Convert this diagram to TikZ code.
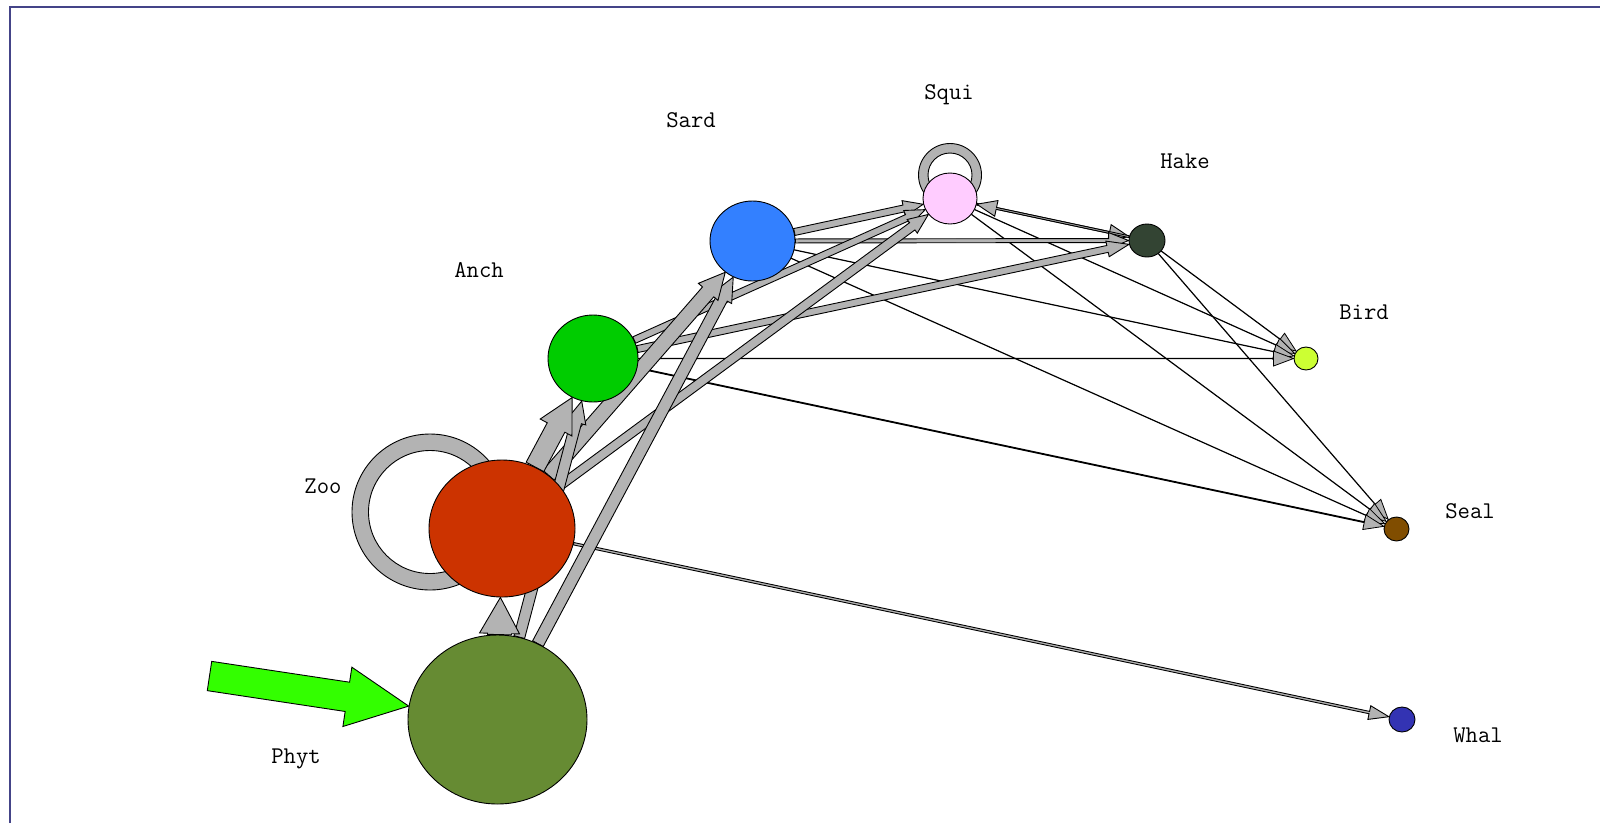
\documentclass[tikz,border=0pt]{standalone}
\usetikzlibrary{calc,shapes.geometric}
\pgfdeclarelayer{background}
\pgfsetlayers{background,main}
\definecolor{phytc}{RGB}{102,139,51}
\definecolor{zooc}{RGB}{204,51,0}
\definecolor{anchc}{RGB}{0,204,0}
\definecolor{sardc}{RGB}{51,128,255}
\definecolor{squic}{RGB}{255,204,255}
\definecolor{hakec}{RGB}{51,68,51}
\definecolor{birdc}{RGB}{204,255,51}
\definecolor{sealc}{RGB}{128,77,0}
\definecolor{whalc}{RGB}{51,51,179}
\definecolor{flowgray}{RGB}{179,179,179}
\definecolor{ingreen}{RGB}{51,255,0}
\definecolor{framec}{RGB}{68,68,136}
\tikzset{
  species/.style={ellipse, draw=black, line width=0.9pt, inner sep=0pt},
  lbl/.style={font=\ttfamily\fontsize{24}{28}\selectfont, anchor=base, inner sep=0pt},
  flowfill/.style={fill=flowgray, draw=black, line width=0.9pt},
  thinflow/.style={fill=flowgray, draw=black, line width=0.8pt},
  inflow/.style={fill=ingreen, draw=black, line width=0.9pt},
  ringstyle/.style={fill=flowgray, draw=black, line width=0.9pt, even odd rule},
  framestyle/.style={draw=framec, line width=2pt}
}
% #1 style, #2 from, #3 to, #4 shaft half width, #5 head half width, #6 head length
\newcommand{\flow}[6][flowfill]{%
  \path (#2) -- coordinate[pos=0] (fs) coordinate[pos=1] (ft) (#3);
  \coordinate (fh) at ($(ft)!#6pt!(fs)$);
  \filldraw[#1] ($(fs)!#4pt!90:(ft)$) -- ($(fh)!#4pt!90:(ft)$) -- ($(fh)!#5pt!90:(ft)$) -- (ft)
    -- ($(fh)!#5pt!-90:(ft)$) -- ($(fh)!#4pt!-90:(ft)$) -- ($(fs)!#4pt!-90:(ft)$) -- cycle;
}
\begin{document}
\begin{tikzpicture}[x=1pt,y=-1pt]
\useasboundingbox (0,0) rectangle (1600,823);
\draw[framestyle] (10,823) -- (10,7) -- (1600,7);

% species nodes
\node[species, fill=phytc, minimum width=179pt, minimum height=169pt] (phyt) at (497.5,719.5) {};
\node[species, fill=zooc, minimum width=146pt, minimum height=137pt] (zoo) at (502,528.5) {};
\node[species, fill=anchc, minimum width=90pt, minimum height=87pt] (anch) at (593,358.5) {};
\node[species, fill=sardc, minimum width=85pt, minimum height=80pt] (sard) at (752.5,241) {};
\node[species, fill=squic, minimum width=54pt, minimum height=51pt] (squi) at (950,198.5) {};
\node[species, fill=hakec, minimum width=36pt, minimum height=33pt] (hake) at (1147,240.5) {};
\node[species, fill=birdc, minimum width=24pt, minimum height=23pt] (bird) at (1306,358.5) {};
\node[species, fill=sealc, minimum width=25pt, minimum height=24pt] (seal) at (1396.5,529) {};
\node[species, fill=whalc, minimum width=26pt, minimum height=25pt] (whal) at (1402,719.5) {};

% labels
\node[lbl] (squiL) at (949,99.5) {Squi};
\node[lbl] (sardL) at (691,127) {Sard};
\node[lbl] (hakeL) at (1185,168) {Hake};
\node[lbl] (anchL) at (479,277) {Anch};
\node[lbl] (birdL) at (1364,319) {Bird};
\node[lbl] (zooL) at (323,493) {Zoo};
\node[lbl] (sealL) at (1470,518) {Seal};
\node[lbl] (phytL) at (296,763) {Phyt};
\node[lbl] (whalL) at (1478,742) {Whal};

\coordinate (src) at (209.5,676);

\begin{pgfonlayer}{background}
  % self loops
  \filldraw[ringstyle] ($(zoo)+(-72,-16.5)$) circle[radius=78pt] ($(zoo)+(-72,-16.5)$) circle[radius=61.5pt];
  \filldraw[ringstyle] ($(squi)+(0,-23.5)$) circle[radius=31.5pt] ($(squi)+(0,-23.5)$) circle[radius=22pt];
  % thin flows
  \flow[thinflow]{hake}{seal}{0.2}{7.5}{20}
  \flow[thinflow]{hake}{bird}{0.2}{7.5}{20}
  \flow[thinflow]{squi}{seal}{0.2}{7.5}{20}
  \flow[thinflow]{squi}{bird}{0.2}{7.5}{20}
  \flow[thinflow]{sard}{seal}{0.2}{7.5}{20}
  \flow[thinflow]{sard}{bird}{0.2}{7.5}{20}
  \flow[thinflow]{anch}{seal}{0.5}{7.5}{20}
  \flow[thinflow]{anch}{bird}{0.3}{7.5}{20}
  \flow{zoo}{whal}{1.2}{7}{20}
  \flow{squi}{hake}{0.9}{8}{20}
  \flow{hake}{squi}{0.9}{8}{20}
  \flow{sard}{hake}{2}{8}{20}
  \flow{anch}{hake}{3.5}{8}{22}
  \flow{sard}{squi}{3.5}{8}{20}
  \flow{anch}{squi}{3.5}{8}{20}
  \flow{zoo}{squi}{4.5}{8.5}{20}
  \flow{phyt}{sard}{6}{11}{24}
  \flow{zoo}{sard}{7.5}{13}{26}
  \flow{phyt}{anch}{5.5}{10}{22}
  \flow{zoo}{anch}{10}{18}{34}
  \flow{phyt}{zoo}{12}{20}{36}
  \flow[inflow]{src}{phyt}{14.8}{30}{62}
\end{pgfonlayer}
\end{tikzpicture}
\end{document}
